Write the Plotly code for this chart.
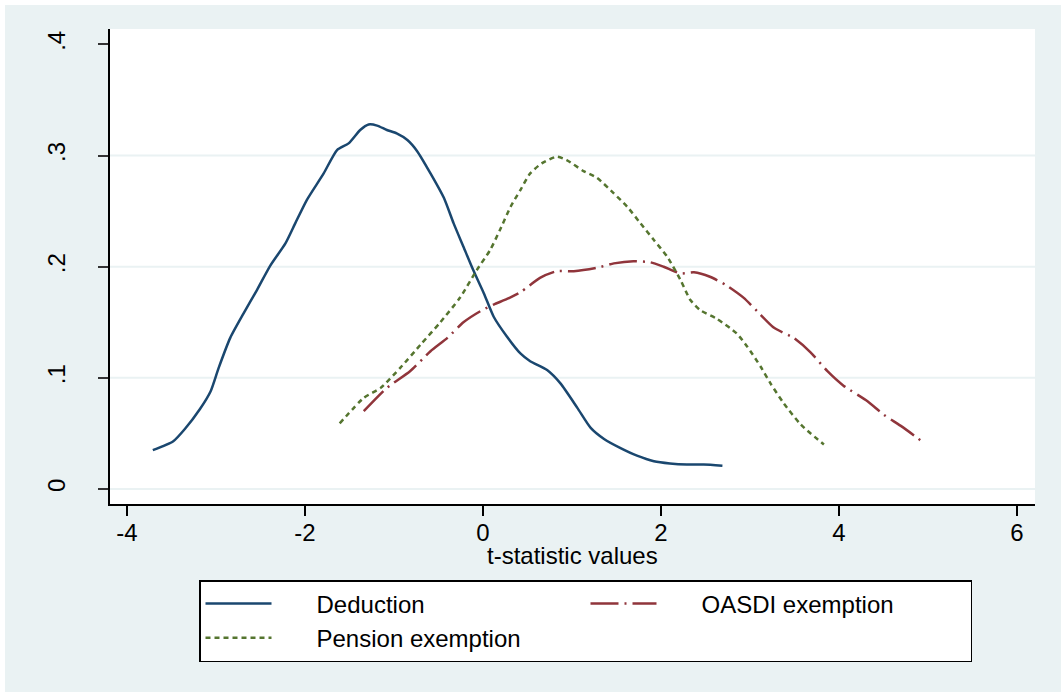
import plotly.graph_objects as go

# ---- data ----
ded_x = [-3.71, -3.48, -3.35, -3.18, -3.06, -2.97, -2.84, -2.69, -2.54, -2.39, -2.22, -2.11,
         -1.98, -1.79, -1.64, -1.51, -1.38, -1.285, -1.19, -1.08, -0.97, -0.85, -0.74, -0.59,
         -0.44, -0.33, -0.22, -0.11, 0.01, 0.12, 0.27, 0.42, 0.53, 0.72, 0.87, 1.06, 1.21,
         1.36, 1.54, 1.73, 1.92, 2.10, 2.29, 2.48, 2.69]
ded_y = [0.035, 0.043, 0.054, 0.072, 0.088, 0.109, 0.136, 0.158, 0.179, 0.201, 0.221, 0.239,
         0.260, 0.284, 0.305, 0.311, 0.323, 0.328, 0.327, 0.323, 0.320, 0.314, 0.304, 0.284,
         0.262, 0.239, 0.218, 0.197, 0.176, 0.155, 0.137, 0.122, 0.115, 0.107, 0.095, 0.073,
         0.055, 0.045, 0.037, 0.030, 0.025, 0.023, 0.022, 0.022, 0.021]

oas_x = [-1.34, -1.08, -0.82, -0.59, -0.40, -0.22, -0.03, 0.12, 0.27, 0.42, 0.64, 0.83, 1.02,
         1.28, 1.47, 1.69, 1.88, 2.03, 2.22, 2.37, 2.55, 2.74, 2.93, 3.08, 3.27, 3.49, 3.68,
         3.87, 4.05, 4.32, 4.50, 4.69, 4.88, 4.94]
oas_y = [0.070, 0.091, 0.106, 0.124, 0.136, 0.150, 0.160, 0.166, 0.171, 0.177, 0.190, 0.196,
         0.196, 0.199, 0.203, 0.205, 0.204, 0.200, 0.194, 0.195, 0.191, 0.183, 0.172, 0.160,
         0.145, 0.136, 0.123, 0.106, 0.093, 0.079, 0.067, 0.057, 0.046, 0.042]

pen_x = [-1.61, -1.34, -1.15, -0.93, -0.70, -0.48, -0.26, -0.07, 0.08, 0.19, 0.31, 0.42, 0.53,
         0.66, 0.83, 0.94, 1.13, 1.28, 1.47, 1.62, 1.77, 1.92, 2.07, 2.22, 2.33, 2.44, 2.63,
         2.85, 2.97, 3.12, 3.23, 3.38, 3.57, 3.83]
pen_y = [0.059, 0.082, 0.091, 0.109, 0.130, 0.150, 0.172, 0.197, 0.215, 0.233, 0.254, 0.269,
         0.284, 0.293, 0.299, 0.296, 0.286, 0.280, 0.266, 0.254, 0.239, 0.224, 0.209, 0.188,
         0.170, 0.161, 0.153, 0.140, 0.128, 0.110, 0.095, 0.077, 0.058, 0.040]

series_names = ["Deduction", "OASDI exemption", "Pension exemption"]
x_ticks = [-4, -2, 0, 2, 4, 6]
x_ticktext = ["-4", "-2", "0", "2", "4", "6"]
y_ticks = [0, 0.1, 0.2, 0.3, 0.4]
y_ticktext = ["0", ".1", ".2", ".3", ".4"]
grid_y = [0, 0.1, 0.2, 0.3]
x_title = "t-statistic values"

BG = "#EAF2F3"
FONT = "Liberation Sans, Arial, sans-serif"
PAD = "\u00a0" * 6  # gap between legend key and label, as in the reference

fig = go.Figure()
fig.add_trace(go.Scatter(x=ded_x, y=ded_y, mode="lines", name=PAD + series_names[0],
                         line=dict(color="#1A476F", width=2.5, shape="spline", smoothing=0.6)))
fig.add_trace(go.Scatter(x=oas_x, y=oas_y, mode="lines", name=PAD + series_names[1],
                         line=dict(color="#90353B", width=2.5, shape="spline", smoothing=0.6,
                                   dash="28px,6px,2px,6px")))
fig.add_trace(go.Scatter(x=pen_x, y=pen_y, mode="lines", name=PAD + series_names[2],
                         line=dict(color="#55752F", width=2.5, shape="spline", smoothing=0.6,
                                   dash="5px,4px")))

W, H = 1061, 698
ML, MR, MT, MB = 110, 26, 29, 194
PW, PH = W - ML - MR, H - MT - MB

shapes = []
for g in grid_y:
    shapes.append(dict(type="line", xref="paper", yref="y", x0=0, x1=1, y0=g, y1=g,
                       line=dict(color=BG, width=2), layer="below"))
shapes.append(dict(type="rect", xref="paper", yref="paper", x0=-ML / PW, x1=-(ML - 5) / PW,
                   y0=-MB / PH, y1=1 + MT / PH, fillcolor="white", line=dict(width=0), layer="above"))
shapes.append(dict(type="rect", xref="paper", yref="paper", x0=-ML / PW, x1=1 + MR / PW,
                   y0=1 + (MT - 5) / PH, y1=1 + MT / PH, fillcolor="white", line=dict(width=0), layer="above"))
shapes.append(dict(type="rect", xref="paper", yref="paper", x0=-ML / PW, x1=1 + MR / PW,
                   y0=-MB / PH, y1=-(MB - 6) / PH, fillcolor="white", line=dict(width=0), layer="above"))

fig.update_layout(
    width=W, height=H,
    margin=dict(l=ML, r=MR, t=MT, b=MB, pad=0),
    paper_bgcolor=BG, plot_bgcolor="white",
    font=dict(family=FONT, size=24, color="black"),
    shapes=shapes,
    annotations=[dict(text=x_title, xref="paper", yref="paper", x=0.5, y=-51 / PH,
                      xanchor="center", yanchor="middle", showarrow=False,
                      font=dict(family=FONT, size=24, color="black"))],
    showlegend=True,
    legend=dict(orientation="h", x=(199 - ML) / PW, xanchor="left", y=-76 / PH, yanchor="top",
                bgcolor="white", bordercolor="black", borderwidth=1.5,
                entrywidth=304, entrywidthmode="pixels", itemwidth=66,
                font=dict(family=FONT, size=24, color="black"), traceorder="normal",
                tracegroupgap=0),
    xaxis=dict(range=[-4.191, 6.202], tickvals=x_ticks, ticktext=x_ticktext, ticks="outside",
               ticklen=10, tickwidth=1.5, tickcolor="black", showline=True, linecolor="black",
               linewidth=1.5, showgrid=False, zeroline=False, tickfont=dict(size=24),
               ticklabelstandoff=-4),
    yaxis=dict(range=[-0.0135, 0.4139], tickvals=y_ticks, ticktext=y_ticktext, ticks="outside",
               ticklen=10, tickwidth=1.5, tickcolor="#333333", showline=True, linecolor="black",
               linewidth=1.5, showgrid=False, zeroline=False, tickangle=-90,
               tickfont=dict(size=24), ticklabelstandoff=24),
)

fig.write_html("out.html")
